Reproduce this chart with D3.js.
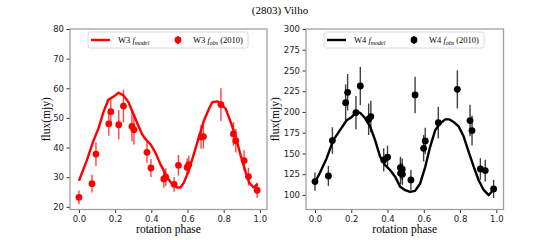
<!DOCTYPE html>
<html>
<head>
<meta charset="utf-8">
<script src="https://d3js.org/d3.v7.min.js"></script>
<style>
  body { margin: 0; background: #fff; }
  svg { display: block; }
</style>
</head>
<body>
<script>
// W3 observations (2010)
const w3Phase = [0.0, 0.072, 0.094, 0.165, 0.176, 0.22, 0.246, 0.293, 0.304, 0.376, 0.398, 0.469, 0.48, 0.526, 0.55, 0.598, 0.607, 0.675, 0.688, 0.785, 0.854, 0.867, 0.913, 0.937, 0.985];
const w3Flux  = [23.2, 27.8, 37.8, 48.0, 52.1, 47.7, 54.0, 47.1, 46.0, 38.4, 33.1, 29.4, 30.0, 27.6, 34.0, 33.3, 34.2, 43.6, 43.7, 54.5, 44.6, 42.3, 35.6, 30.2, 25.6];
const w3Err   = [2.3, 3.0, 4.0, 4.0, 4.5, 5.0, 5.5, 5.0, 5.0, 3.5, 3.0, 3.0, 3.0, 2.5, 3.5, 3.0, 3.0, 4.0, 4.0, 5.5, 4.0, 4.0, 3.5, 3.0, 2.5];

// W3 model
const w3ModelPhase = [0, 0.043, 0.08, 0.107, 0.135, 0.163, 0.172, 0.2, 0.219, 0.246, 0.274, 0.293, 0.32, 0.348, 0.367, 0.394, 0.422, 0.45, 0.469, 0.487, 0.515, 0.543, 0.561, 0.58, 0.607, 0.635, 0.663, 0.691, 0.719, 0.737, 0.765, 0.783, 0.811, 0.839, 0.867, 0.894, 0.922, 0.941, 0.965, 0.987];
const w3Model      = [28.8, 35.6, 42.3, 46.3, 51.9, 56.2, 56.5, 57.6, 58.5, 57.6, 55.3, 52.5, 48.6, 44.6, 42.9, 41.2, 38.4, 34.4, 32.2, 29.9, 27.7, 26.5, 26.5, 28.2, 32.2, 37.8, 43.5, 49.1, 53.1, 55.3, 55.6, 54.8, 53.1, 48.6, 43.5, 37.3, 31.6, 28.2, 26.5, 27.7];

// W4 observations (2010)
const w4Phase = [0.0, 0.074, 0.096, 0.169, 0.18, 0.226, 0.25, 0.296, 0.308, 0.379, 0.4, 0.471, 0.481, 0.472, 0.482, 0.529, 0.552, 0.599, 0.608, 0.68, 0.785, 0.855, 0.866, 0.912, 0.939, 0.985];
const w4Flux  = [116.1, 122.9, 165.5, 211.2, 223.7, 199.2, 231.3, 191.2, 194.4, 142.2, 145.4, 133.0, 131.0, 126.0, 125.0, 118.0, 220.5, 156.2, 165.0, 187.1, 227.3, 189.6, 177.5, 131.3, 129.3, 107.2];
const w4Err   = [11, 12, 16, 22, 22, 20, 23, 19, 19, 14, 14, 13, 13, 13, 13, 12, 22, 16, 16, 19, 23, 19, 18, 13, 13, 11];

// W4 model
const w4ModelPhase = [0, 0.028, 0.064, 0.101, 0.138, 0.175, 0.203, 0.23, 0.249, 0.276, 0.304, 0.331, 0.359, 0.387, 0.414, 0.442, 0.47, 0.497, 0.525, 0.552, 0.58, 0.608, 0.635, 0.663, 0.69, 0.718, 0.742, 0.764, 0.792, 0.82, 0.847, 0.875, 0.902, 0.93, 0.958, 0.981];
const w4Model      = [115, 127, 144, 166, 178, 190, 194, 200.2, 199, 192.7, 182.6, 166.3, 146.2, 136, 130, 122, 109.7, 105.7, 103.7, 104.9, 113.8, 133.9, 158, 178, 186, 191, 191, 188, 182.6, 170.4, 152.3, 134, 118, 106, 99.7, 105.7];

const w3Ticks = [20, 30, 40, 50, 60, 70, 80];
const w4Ticks = [100, 125, 150, 175, 200, 225, 250, 275, 300];
const xTicks = [0, 0.2, 0.4, 0.6, 0.8, 1.0];

const W = 560, H = 240;
const svg = d3.select("body").append("svg").attr("width", W).attr("height", H);

svg.append("text")
  .attr("x", 280).attr("y", 14)
  .attr("text-anchor", "middle")
  .style("font-family", "Liberation Serif, serif")
  .style("font-size", "11px")
  .text("(2803) Vilho");

function panel(opt) {
  const top = 29, bottom = 209.5;
  const x = d3.scaleLinear().domain([-0.0495, 1.0395]).range([opt.left, opt.right]);
  const y = d3.scaleLinear().domain(opt.yDomain).range([bottom, top]);
  const g = svg.append("g");

  // model line
  g.append("path")
    .datum(opt.modelPhase.map((p, i) => [p, opt.model[i]]))
    .attr("fill", "none")
    .attr("stroke", opt.color)
    .attr("stroke-width", 2.4)
    .attr("stroke-linejoin", "round")
    .attr("d", d3.line().x(d => x(d[0])).y(d => y(d[1])));

  // error bars
  const pts = opt.phase.map((p, i) => ({ p: p, f: opt.flux[i], e: opt.err[i] }));
  g.selectAll(".eb").data(pts).enter().append("line")
    .attr("x1", d => x(d.p)).attr("x2", d => x(d.p))
    .attr("y1", d => y(d.f - d.e)).attr("y2", d => y(d.f + d.e))
    .attr("stroke", opt.color).attr("stroke-opacity", 0.75)
    .attr("stroke-width", 1.4);
  g.selectAll(".pt").data(pts).enter().append("circle")
    .attr("cx", d => x(d.p)).attr("cy", d => y(d.f))
    .attr("r", 3.4).attr("fill", opt.color);

  // axes
  const yAxis = g.append("g").attr("transform", `translate(${opt.left},0)`)
    .call(d3.axisLeft(y).tickValues(opt.yTicks).tickSize(3.5).tickPadding(2.5));
  const xAxis = g.append("g").attr("transform", `translate(0,${bottom})`)
    .call(d3.axisBottom(x).tickValues(xTicks).tickFormat(d3.format(".1f")).tickSize(3.5).tickPadding(3));
  [yAxis, xAxis].forEach(a => {
    a.select(".domain").remove();
    a.selectAll("line").attr("stroke", "#333");
    a.selectAll("text").style("font-family", "DejaVu Sans, sans-serif").style("font-size", "8.5px").attr("fill", "#222");
  });

  // frame
  g.append("rect")
    .attr("x", opt.left).attr("y", top)
    .attr("width", opt.right - opt.left).attr("height", bottom - top)
    .attr("fill", "none").attr("stroke", "#a0a0a0").attr("stroke-width", 1.3);

  // labels
  g.append("text")
    .attr("x", (opt.left + opt.right) / 2).attr("y", 233)
    .attr("text-anchor", "middle")
    .style("font-family", "Liberation Serif, serif").style("font-size", "11.5px")
    .text("rotation phase");
  g.append("text")
    .attr("transform", `translate(${opt.left - opt.labelGap},${(top + bottom) / 2}) rotate(-90)`)
    .attr("text-anchor", "middle")
    .style("font-family", "Liberation Serif, serif").style("font-size", "11.5px")
    .text("flux(mjy)");

  // legend
  const lx = opt.left + 18, ly = 32;
  const lg = g.append("g").style("font-family", "Liberation Serif, serif").style("font-size", "8.5px");
  lg.append("rect").attr("x", lx).attr("y", ly).attr("width", 160).attr("height", 16)
    .attr("rx", 2).attr("fill", "#fff").attr("fill-opacity", 0.8)
    .attr("stroke", "#d0d0d0").attr("stroke-width", 0.8);
  lg.append("line").attr("x1", lx + 3).attr("x2", lx + 22).attr("y1", ly + 8).attr("y2", ly + 8)
    .attr("stroke", opt.color).attr("stroke-width", 2.4);
  const t1 = lg.append("text").attr("x", lx + 30).attr("y", ly + 11);
  t1.append("tspan").text(opt.band + " ");
  t1.append("tspan").style("font-style", "italic").text("f");
  t1.append("tspan").style("font-style", "italic").style("font-size", "6px").attr("dy", 2).text("model");
  lg.append("line").attr("x1", lx + 90).attr("x2", lx + 90).attr("y1", ly + 4).attr("y2", ly + 12)
    .attr("stroke", opt.color).attr("stroke-width", 1.4);
  lg.append("circle").attr("cx", lx + 90).attr("cy", ly + 8).attr("r", 3.4).attr("fill", opt.color);
  const t2 = lg.append("text").attr("x", lx + 105).attr("y", ly + 11);
  t2.append("tspan").text(opt.band + " ");
  t2.append("tspan").style("font-style", "italic").text("f");
  t2.append("tspan").style("font-style", "italic").style("font-size", "6px").attr("dy", 2).text("obs");
  t2.append("tspan").attr("dy", -2).text(" (2010)");
}

panel({ left: 70, right: 267, yDomain: [19.1, 80], yTicks: w3Ticks, color: "#ff0000", band: "W3", labelGap: 20,
        phase: w3Phase, flux: w3Flux, err: w3Err, modelPhase: w3ModelPhase, model: w3Model });
panel({ left: 306, right: 503.5, yDomain: [82.4, 300], yTicks: w4Ticks, color: "#000000", band: "W4", labelGap: 27,
        phase: w4Phase, flux: w4Flux, err: w4Err, modelPhase: w4ModelPhase, model: w4Model });
</script>
</body>
</html>
